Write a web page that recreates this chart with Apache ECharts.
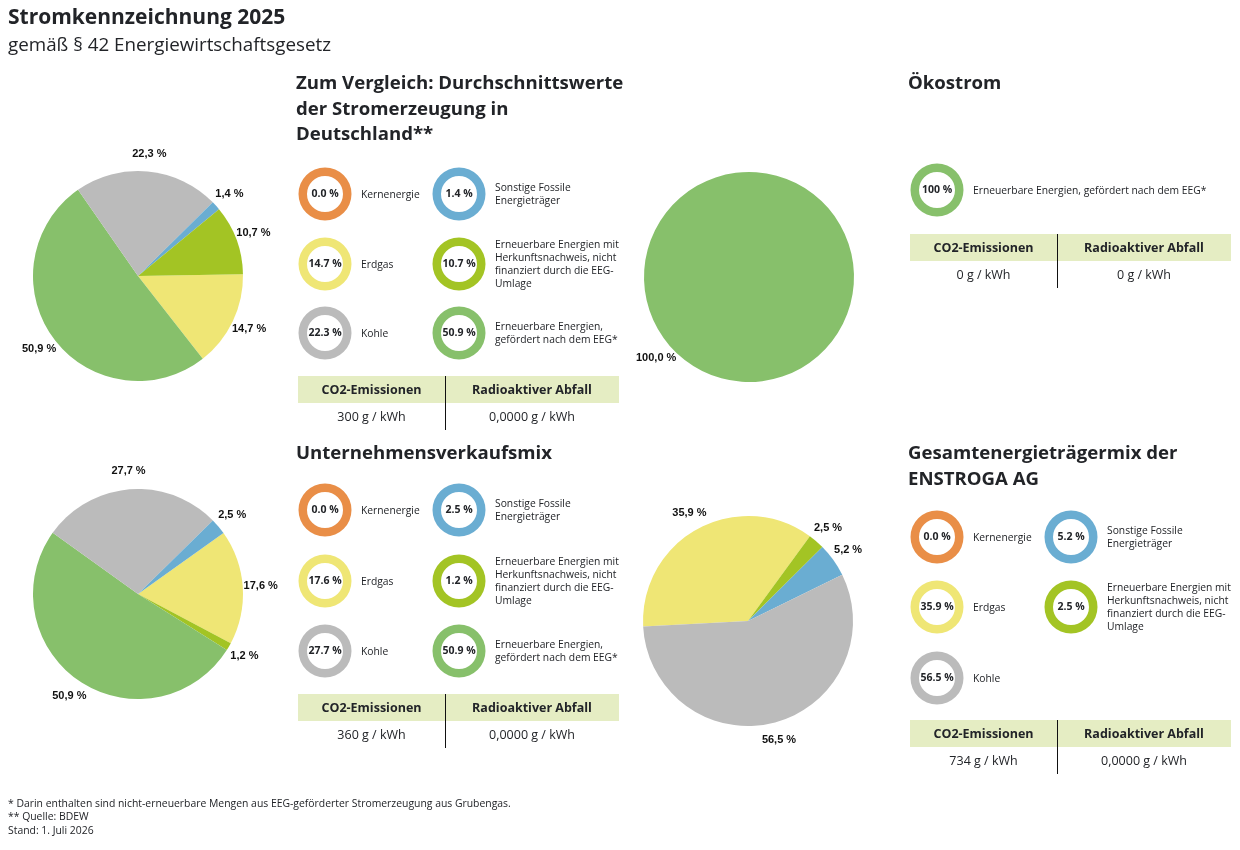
<!DOCTYPE html>
<html>
<head>
<meta charset="utf-8">
<title>Stromkennzeichnung 2025</title>
<script src="https://cdn.jsdelivr.net/npm/echarts@6/dist/echarts.min.js"></script>
<style>
    html, body {margin: 0; padding: 0; background: #fff;}
    #main {width: 1240px; height: 850px;}
</style>
</head>
<body>
<div id="main"></div>
<script>
// Energieträger (Reihenfolge wie in der Legende)
const sources = ['Kernenergie', 'Sonstige Fossile Energieträger', 'Erdgas',
    'Erneuerbare Energien mit Herkunftsnachweis, nicht finanziert durch die EEG-Umlage',
    'Kohle', 'Erneuerbare Energien, gefördert nach dem EEG*'];
const sourceLabels = ['Kernenergie', 'Sonstige Fossile\nEnergieträger', 'Erdgas',
    'Erneuerbare Energien mit\nHerkunftsnachweis, nicht\nfinanziert durch die EEG-\nUmlage',
    'Kohle', 'Erneuerbare Energien,\ngefördert nach dem EEG*'];
const colors = ['#e98e47', '#6aadd2', '#efe675', '#a3c424', '#bbbbbb', '#87c06b'];

// Anteile in %
const deutschland = [0.0, 1.4, 14.7, 10.7, 22.3, 50.9];
const oekostrom = [0, 0, 0, 0, 0, 100.0];
const unternehmen = [0.0, 2.5, 17.6, 1.2, 27.7, 50.9];
const gesamt = [0.0, 5.2, 35.9, 2.5, 56.5, 0];

// Tabellenwerte
const tableHead = ['CO2-Emissionen', 'Radioaktiver Abfall'];
const co2 = ['300 g / kWh', '0 g / kWh', '360 g / kWh', '734 g / kWh'];
const abfall = ['0,0000 g / kWh', '0 g / kWh', '0,0000 g / kWh', '0,0000 g / kWh'];

const footnotes = [
    '* Darin enthalten sind nicht-erneuerbare Mengen aus EEG-geförderter Stromerzeugung aus Grubengas.',
    '** Quelle: BDEW',
    'Stand: 1. Juli 2026'
];

const FONT = '"Open Sans", "Noto Sans", sans-serif';
const DARK = '#222428';
const PIE_R = 105;
const LABEL_R = 123;   // Abstand der Beschriftung vom Mittelpunkt

let chart = echarts.init(document.getElementById('main'));

// Layout der vier Blöcke
const panels = [
    {
        values: deutschland, title: 'Zum Vergleich: Durchschnittswerte\nder Stromerzeugung in\nDeutschland**',
        titlePos: [296, 71], pie: [138, 276], startAngle: 1, order: [2, 5, 4, 1, 3],
        ringX: [325, 459], ringY: [194, 264, 333], cols: [[0, 2, 4], [1, 3, 5]],
        table: [298, 376, 321, 147], k: 0
    },
    {
        values: oekostrom, title: 'Ökostrom',
        titlePos: [908, 71], pie: [749, 277], startAngle: 41, order: [5],
        ringX: [937], ringY: [190], cols: [[5]], oneLine: true,
        table: [910, 234, 321, 147], k: 1
    },
    {
        values: unternehmen, title: 'Unternehmensverkaufsmix',
        titlePos: [296, 441], pie: [138, 594], startAngle: 35.5, order: [2, 3, 5, 4, 1],
        ringX: [325, 459], ringY: [510, 581, 651], cols: [[0, 2, 4], [1, 3, 5]],
        table: [298, 694, 321, 147], k: 2
    },
    {
        values: gesamt, title: 'Gesamtenergieträgermix der\nENSTROGA AG',
        titlePos: [908, 441], pie: [748, 621], startAngle: 183, order: [2, 3, 1, 4],
        ringX: [937, 1071], ringY: [537, 607, 678], cols: [[0, 2, 4], [1, 3]],
        table: [910, 720, 321, 147], k: 3
    }
];

let series = [];
let graphics = [];

graphics.push({type: 'text', left: 8, top: 8,
    style: {text: 'Stromkennzeichnung 2025', font: 'bold 21px ' + FONT, fill: DARK}});
graphics.push({type: 'text', left: 8, top: 36,
    style: {text: 'gemäß § 42 Energiewirtschaftsgesetz', font: '18.8px ' + FONT, fill: DARK}});

footnotes.forEach((t, i) => {
    graphics.push({type: 'text', left: 8, top: 799 + i * 13.5,
        style: {text: t, font: '10.4px ' + FONT, fill: DARK}});
});

for (let p of panels) {
    let vals = p.order.map(i => p.values[i]);
    let total = vals.reduce((a, b) => a + b, 0);

    // Kreisdiagramm
    series.push({
        type: 'pie',
        center: p.pie,
        radius: PIE_R,
        startAngle: p.startAngle,
        clockwise: true,
        silent: true,
        avoidLabelOverlap: false,
        itemStyle: {borderWidth: 0},
        label: {
            show: true,
            position: 'outside',
            fontFamily: '"Liberation Sans", Arial, sans-serif',
            fontWeight: 'bold',
            fontSize: 11,
            color: '#111',
            formatter: (prm) => prm.value.toFixed(1).replace('.', ',') + ' %'
        },
        labelLine: {show: false, length: 6, length2: 0},
        // Beschriftung mittig auf der Winkelhalbierenden des Segments
        labelLayout: (prm) => {
            let before = vals.slice(0, prm.dataIndex).reduce((a, b) => a + b, 0);
            let mid = (p.startAngle - (before + vals[prm.dataIndex] / 2) / total * 360) * Math.PI / 180;
            return {
                x: p.pie[0] + LABEL_R * Math.cos(mid),
                y: p.pie[1] - LABEL_R * Math.sin(mid),
                align: 'center',
                verticalAlign: 'middle'
            };
        },
        data: p.order.map(i => ({
            name: sources[i], value: p.values[i], itemStyle: {color: colors[i]}
        }))
    });

    // Überschrift
    graphics.push({type: 'text', left: p.titlePos[0], top: p.titlePos[1],
        style: {text: p.title, font: 'bold 18.6px ' + FONT, fill: DARK, lineHeight: 25.5}});

    // Legende mit Ringen
    p.cols.forEach((col, c) => {
        col.forEach((idx, r) => {
            let v = p.values[idx];
            series.push({
                type: 'pie',
                center: [p.ringX[c], p.ringY[r]],
                radius: [18, 26.5],
                silent: true,
                label: {
                    show: true, position: 'center',
                    fontFamily: FONT, fontWeight: 'bold', fontSize: 10.5, color: DARK,
                    formatter: () => (v === 100 ? '100' : v.toFixed(1)) + ' %'
                },
                labelLine: {show: false},
                itemStyle: {color: colors[idx]},
                data: [{name: sources[idx], value: 1}]
            });
            graphics.push({type: 'text', x: p.ringX[c] + 36, y: p.ringY[r] + 1,
                style: {
                    text: p.oneLine ? sources[idx] : sourceLabels[idx],
                    font: '10.3px ' + FONT, fill: DARK, lineHeight: 13,
                    verticalAlign: 'middle'
                }});
        });
    });

    // Tabelle
    let [tx, ty, tw, dx] = p.table;
    graphics.push({type: 'rect', shape: {x: tx, y: ty, width: tw, height: 27},
        style: {fill: '#e5edc3'}});
    graphics.push({type: 'line', shape: {x1: tx + dx + 0.5, y1: ty, x2: tx + dx + 0.5, y2: ty + 54},
        style: {stroke: '#111', lineWidth: 1}});
    graphics.push({type: 'text', x: tx + dx / 2, y: ty + 14,
        style: {text: tableHead[0], font: 'bold 12.5px ' + FONT, fill: DARK, align: 'center', verticalAlign: 'middle'}});
    graphics.push({type: 'text', x: tx + dx + (tw - dx) / 2, y: ty + 14,
        style: {text: tableHead[1], font: 'bold 12.5px ' + FONT, fill: DARK, align: 'center', verticalAlign: 'middle'}});
    graphics.push({type: 'text', x: tx + dx / 2, y: ty + 41,
        style: {text: co2[p.k], font: '12.5px ' + FONT, fill: DARK, align: 'center', verticalAlign: 'middle'}});
    graphics.push({type: 'text', x: tx + dx + (tw - dx) / 2, y: ty + 41,
        style: {text: abfall[p.k], font: '12.5px ' + FONT, fill: DARK, align: 'center', verticalAlign: 'middle'}});
}

let option = {
    animation: false,
    backgroundColor: '#fff',
    series: series,
    graphic: graphics
};
chart.setOption(option);
</script>
</body>
</html>
